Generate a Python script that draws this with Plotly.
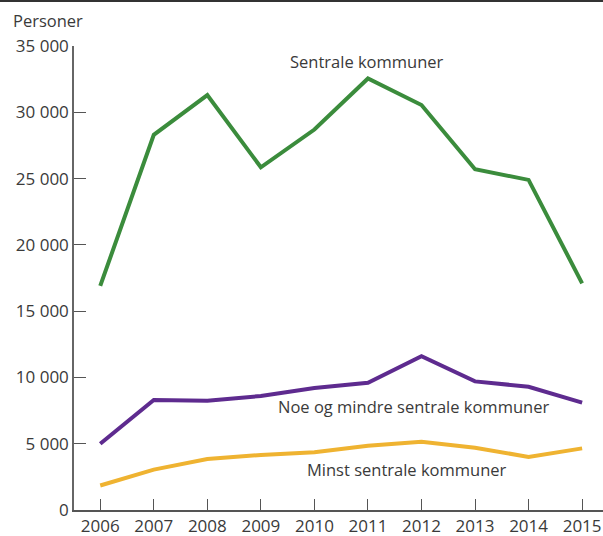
import plotly.graph_objects as go

years = [2006, 2007, 2008, 2009, 2010, 2011, 2012, 2013, 2014, 2015]
sentrale = [16900, 28300, 31300, 25850, 28700, 32550, 30550, 25700, 24900, 17100]
noe_mindre = [5000, 8300, 8250, 8600, 9200, 9600, 11600, 9700, 9300, 8100]
minst = [1850, 3050, 3850, 4150, 4350, 4850, 5150, 4700, 4000, 4650]

series_names = ["Sentrale kommuner", "Noe og mindre sentrale kommuner", "Minst sentrale kommuner"]
series_colors = ["#3b8c3c", "#5e2b8f", "#efb331"]

ytick_vals = [0, 5000, 10000, 15000, 20000, 25000, 30000, 35000]
ytick_text = ["0", "5 000", "10 000", "15 000", "20 000", "25 000", "30 000", "35 000"]

label_pos = [(2010.98, 33800), (2011.86, 7770), (2011.73, 3090)]

FONT = "Open Sans, Noto Sans, sans-serif"
TXT = "#3a3a3a"

fig = go.Figure()
for name, vals, col in zip(series_names, [sentrale, noe_mindre, minst], series_colors):
    fig.add_trace(go.Scatter(x=years, y=vals, mode="lines", name=name,
                             line=dict(color=col, width=4), showlegend=False,
                             hoverinfo="x+y"))

for name, (lx, ly) in zip(series_names, label_pos):
    fig.add_annotation(x=lx, y=ly, text=name, showarrow=False,
                       font=dict(family=FONT, size=16.5, color=TXT),
                       xanchor="center", yanchor="middle")

fig.add_annotation(x=0, y=1, xref="paper", yref="paper", xshift=-63, yshift=26,
                   text="Personer", showarrow=False, xanchor="left", yanchor="middle",
                   font=dict(family=FONT, size=16.5, color=TXT))

fig.add_shape(type="line", xref="paper", yref="paper", x0=-0.2, x1=1.1,
              y0=1 + 45 / 464, y1=1 + 45 / 464,
              line=dict(color="#333333", width=2))

fig.update_layout(
    width=603, height=536,
    margin=dict(l=74, r=0, t=46, b=26, pad=0),
    paper_bgcolor="white", plot_bgcolor="white",
    font=dict(family=FONT, size=17, color=TXT),
    xaxis=dict(range=[2005.51, 2015.39], tickvals=years, ticktext=[str(y) for y in years],
               ticks="inside", ticklen=11, tickwidth=1, tickcolor="#555555",
               showline=True, linecolor="#555555", linewidth=1.5,
               showgrid=False, zeroline=False, fixedrange=True, automargin=False,
               tickfont=dict(family=FONT, size=17, color=TXT)),
    yaxis=dict(range=[0, 35000], tickvals=ytick_vals, ticktext=ytick_text,
               ticks="inside", ticklen=12, tickwidth=1, tickcolor="#555555",
               showline=True, linecolor="#666666", linewidth=1.5,
               showgrid=False, zeroline=False, fixedrange=True, automargin=False,
               tickfont=dict(family=FONT, size=17, color=TXT)),
)

fig.write_html("out.html", config={"displayModeBar": False},
               post_script="document.body.style.margin='0px';document.body.style.overflow='hidden';")
